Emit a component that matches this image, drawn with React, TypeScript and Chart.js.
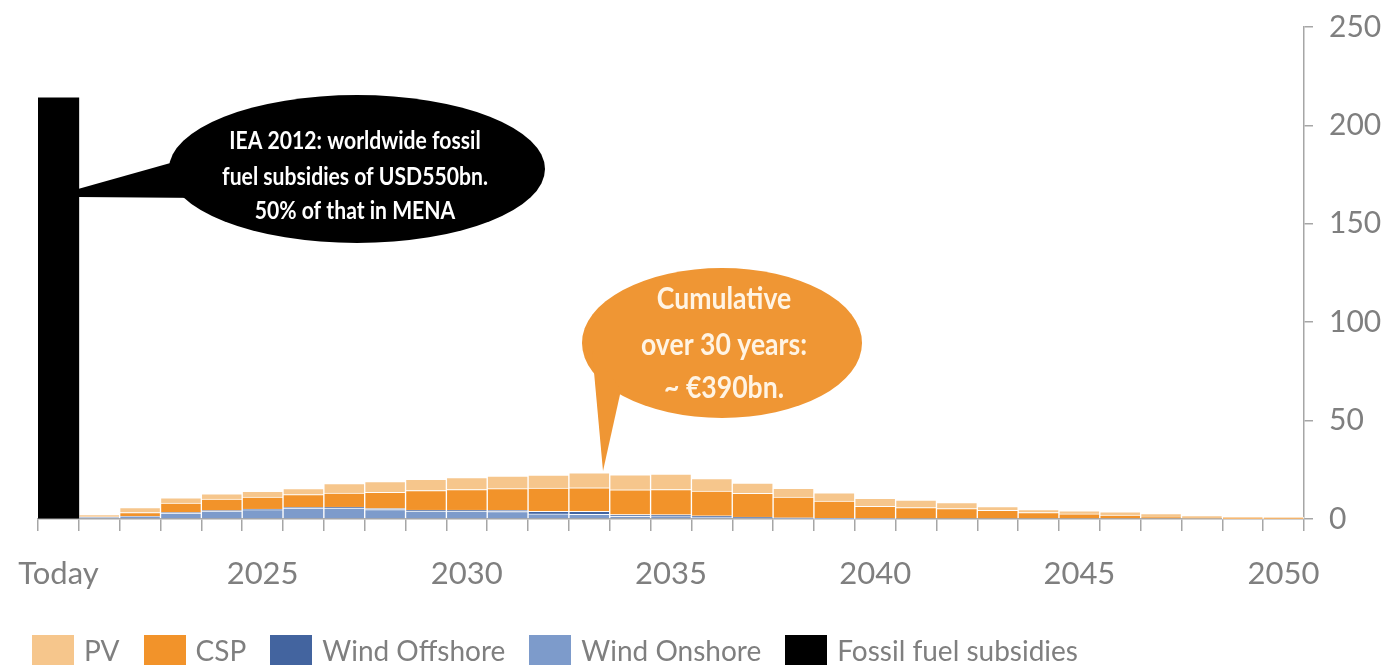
import React, { useEffect, useRef } from 'react';
import { Chart, registerables } from 'chart.js';

Chart.register(...registerables);

// ---------- data ----------
const categories = [
  'Today', '2021', '2022', '2023', '2024', '2025', '2026', '2027', '2028', '2029', '2030',
  '2031', '2032', '2033', '2034', '2035', '2036', '2037', '2038', '2039', '2040',
  '2041', '2042', '2043', '2044', '2045', '2046', '2047', '2048', '2049', '2050',
];
const shownLabels = ['Today', '2025', '2030', '2035', '2040', '2045', '2050'];

const fossilSubsidies = [214, 0, 0, 0, 0, 0, 0, 0, 0, 0, 0, 0, 0, 0, 0, 0, 0, 0, 0, 0, 0, 0, 0, 0, 0, 0, 0, 0, 0, 0, 0];
const windOnshore = [0, 0.8, 1.2, 3.0, 4.0, 4.8, 5.5, 5.5, 4.8, 4.0, 4.0, 3.8, 2.6, 2.4, 1.3, 1.2, 0.8, 0.5, 0.3, 0.2, 0.1, 0, 0, 0, 0, 0, 0, 0, 0, 0, 0];
const windOffshore = [0, 0, 0.1, 0.3, 0.3, 0.3, 0.4, 0.5, 0.5, 0.5, 0.5, 0.6, 1.3, 1.5, 1.0, 1.0, 0.8, 0.5, 0.3, 0.1, 0, 0, 0, 0, 0, 0, 0, 0, 0, 0, 0];
const csp = [0, 0.4, 2.0, 4.8, 5.8, 6.0, 6.5, 7.2, 8.2, 10.0, 10.5, 11.0, 11.8, 12.0, 12.5, 12.8, 12.6, 12.0, 10.5, 8.8, 6.3, 5.8, 5.3, 4.4, 3.3, 2.6, 2.0, 1.0, 0.4, 0.2, 0.1];
const pv = [0, 1.0, 2.5, 2.7, 2.7, 2.9, 3.1, 4.8, 5.5, 5.7, 6.0, 6.4, 6.6, 7.6, 7.7, 7.8, 6.3, 5.2, 4.5, 4.2, 4.1, 3.8, 3.0, 1.9, 1.5, 1.6, 1.7, 1.8, 1.4, 1.0, 0.9];

const yTicks = [0, 50, 100, 150, 200, 250];

const fossilText = ['IEA 2012: worldwide fossil', 'fuel subsidies of USD550bn.', '50% of that in MENA'];
const cumulativeText = ['Cumulative', 'over 30 years:', '~ €390bn.'];

// ---------- styles ----------
const COLORS = {
  pv: '#f6c68c',
  csp: '#f2932a',
  windOffshore: '#43649f',
  windOnshore: '#7d9bcb',
  fossil: '#000000',
  orangeBubble: '#ef9634',
  axis: '#a6a6a6',
  text: '#7f7f7f',
};
const FONT = 'Lato, "Open Sans", "DejaVu Sans", sans-serif';

const legendItems = [
  { label: 'PV', color: COLORS.pv },
  { label: 'CSP', color: COLORS.csp },
  { label: 'Wind Offshore', color: COLORS.windOffshore },
  { label: 'Wind Onshore', color: COLORS.windOnshore },
  { label: 'Fossil fuel subsidies', color: COLORS.fossil },
];

const nz = (arr: number[]) => arr.map((v) => (v === 0 ? null : v));

function fitFont(ctx: CanvasRenderingContext2D, text: string, target: number, weight: string) {
  ctx.font = `${weight} 20px ${FONT}`;
  const w = ctx.measureText(text).width;
  return (20 * target) / w;
}

function drawStretchedLines(
  ctx: CanvasRenderingContext2D,
  lines: string[],
  x: number,
  ys: number[],
  size: number,
  color: string,
  stretch: number,
) {
  ctx.save();
  ctx.font = `bold ${size}px ${FONT}`;
  ctx.fillStyle = color;
  ctx.textAlign = 'center';
  ctx.textBaseline = 'middle';
  lines.forEach((t, i) => {
    ctx.save();
    ctx.translate(x, ys[i]);
    ctx.scale(1, stretch);
    ctx.fillText(t, 0, 0);
    ctx.restore();
  });
  ctx.restore();
}

const calloutPlugin = {
  id: 'callouts',
  afterDatasetsDraw(chart: any) {
    const { ctx, chartArea: a } = chart;
    const sx = a.width / 1266;
    const sy = a.height / 492;
    const X = (p: number) => a.left + (p - 38) * sx;
    const Y = (p: number) => a.top + (p - 27) * sy;
    ctx.save();

    // black bubble
    ctx.fillStyle = '#000';
    ctx.beginPath();
    ctx.ellipse(X(357), Y(169), 188 * sx, 74 * sy, 0, 0, Math.PI * 2);
    ctx.fill();
    ctx.beginPath();
    ctx.moveTo(X(78), Y(189));
    ctx.lineTo(X(174), Y(162));
    ctx.lineTo(X(205), Y(198));
    ctx.lineTo(X(78), Y(197));
    ctx.closePath();
    ctx.fill();

    const s1 = fitFont(ctx, fossilText[1], 266 * sx, 'bold');
    drawStretchedLines(ctx, fossilText, X(355), [141, 177, 211].map(Y), s1, '#ffffff', 1.15);

    // orange bubble
    ctx.fillStyle = COLORS.orangeBubble;
    ctx.beginPath();
    ctx.ellipse(X(722), Y(343), 140 * sx, 75 * sy, 0, 0, Math.PI * 2);
    ctx.fill();
    ctx.beginPath();
    ctx.moveTo(X(592), Y(350));
    ctx.lineTo(X(603), Y(471));
    ctx.lineTo(X(621), Y(390));
    ctx.closePath();
    ctx.fill();

    const s2 = fitFont(ctx, cumulativeText[1], 166 * sx, 'bold');
    drawStretchedLines(ctx, cumulativeText, X(724), [299, 345, 388].map(Y), s2, '#fff4e4', 1.12);

    ctx.restore();
  },
};

export default function App() {
  const canvasRef = useRef<HTMLCanvasElement | null>(null);

  useEffect(() => {
    const canvas = canvasRef.current;
    if (!canvas) return;
    const borderColor = 'rgba(255,255,255,0.85)';
    const chart = new Chart(canvas, {
      type: 'bar',
      data: {
        labels: categories,
        datasets: [
          { label: 'Fossil fuel subsidies', data: nz(fossilSubsidies), backgroundColor: COLORS.fossil, borderWidth: 0 },
          { label: 'Wind Onshore', data: nz(windOnshore), backgroundColor: COLORS.windOnshore, borderColor, borderWidth: 1 },
          { label: 'Wind Offshore', data: nz(windOffshore), backgroundColor: COLORS.windOffshore, borderColor, borderWidth: 1 },
          { label: 'CSP', data: nz(csp), backgroundColor: COLORS.csp, borderColor, borderWidth: 1 },
          { label: 'PV', data: nz(pv), backgroundColor: COLORS.pv, borderColor, borderWidth: 1 },
        ],
      },
      options: {
        animation: false,
        responsive: true,
        maintainAspectRatio: false,
        datasets: { bar: { barPercentage: 1, categoryPercentage: 1 } },
        layout: { padding: { left: 38, top: 27, right: 0, bottom: 62 } },
        plugins: {
          legend: { display: false },
          tooltip: { enabled: false },
        },
        scales: {
          x: {
            stacked: true,
            grid: {
              offset: true,
              drawOnChartArea: false,
              drawTicks: true,
              tickLength: 12,
              tickColor: COLORS.axis,
              lineWidth: 1.5,
            },
            border: { display: true, color: COLORS.axis, width: 1.5 },
            ticks: {
              autoSkip: false,
              maxRotation: 0,
              minRotation: 0,
              padding: 24,
              color: COLORS.text,
              font: { family: FONT, size: 31 },
              callback: (_v: any, i: number) => (shownLabels.includes(categories[i]) ? categories[i] : ''),
            },
            afterFit: (scale: any) => {
              scale.height = 88;
              scale.paddingLeft = 0;
              scale.paddingRight = 0;
            },
          },
          y: {
            stacked: true,
            position: 'right',
            min: 0,
            max: 250,
            afterBuildTicks: (scale: any) => {
              scale.ticks = yTicks.map((v) => ({ value: v }));
            },
            grid: {
              drawOnChartArea: false,
              drawTicks: true,
              tickLength: 9,
              tickColor: COLORS.axis,
              lineWidth: 1.5,
            },
            border: { display: true, color: COLORS.axis, width: 1.5 },
            ticks: {
              padding: 16,
              color: COLORS.text,
              font: { family: FONT, size: 30 },
            },
            afterFit: (scale: any) => {
              scale.width = 85;
              scale.paddingTop = 0;
              scale.paddingBottom = 0;
            },
          },
        },
      },
      plugins: [calloutPlugin],
    });
    return () => chart.destroy();
  }, []);

  return (
    <div style={{ position: 'absolute', left: 0, top: 0, width: 1389, height: 669, background: '#fff', overflow: 'hidden' }}>
      <canvas ref={canvasRef} style={{ display: 'block' }} />
      <div
        style={{
          position: 'absolute',
          left: 32,
          top: 635,
          display: 'flex',
          alignItems: 'center',
          fontFamily: FONT,
          fontSize: 28,
          color: COLORS.text,
          lineHeight: '30px',
          whiteSpace: 'nowrap',
        }}
      >
        {legendItems.map((it) => (
          <div key={it.label} style={{ display: 'flex', alignItems: 'center', marginRight: 24 }}>
            <span style={{ display: 'inline-block', width: 42, height: 30, background: it.color, marginRight: 10 }} />
            <span>{it.label}</span>
          </div>
        ))}
      </div>
    </div>
  );
}
